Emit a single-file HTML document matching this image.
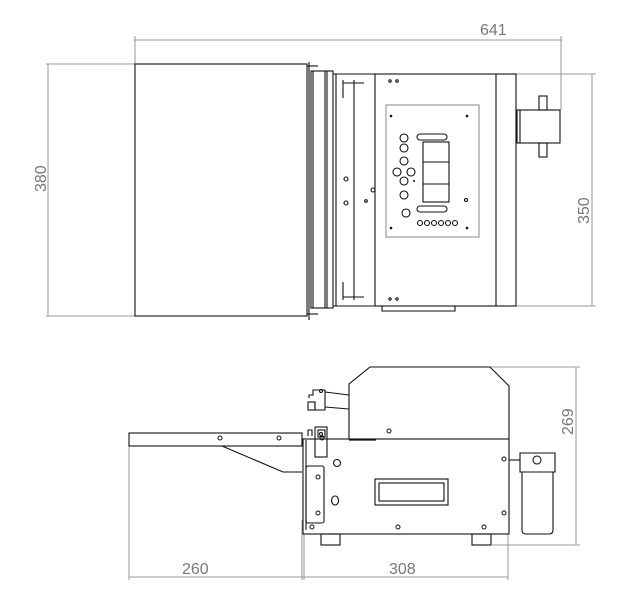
<!DOCTYPE html>
<html><head><meta charset="utf-8"><style>
html,body{margin:0;padding:0;background:#fff;}
svg{display:block;}
text{font-family:"Liberation Sans",sans-serif;fill:#777;font-size:16px;}
</style></head><body>
<svg width="639" height="615" viewBox="0 0 639 615" xmlns="http://www.w3.org/2000/svg">
<g stroke="#999" stroke-width="1" fill="none">
 <line x1="134" y1="40" x2="562" y2="40"/>
 <line x1="135" y1="36" x2="135" y2="64"/>
 <line x1="561" y1="36" x2="561" y2="110"/>
 <line x1="48" y1="64" x2="48" y2="316"/>
 <line x1="46" y1="64" x2="135" y2="64"/>
 <line x1="46" y1="316" x2="135" y2="316"/>
 <line x1="592" y1="74" x2="592" y2="306"/>
 <line x1="516" y1="74" x2="596" y2="74"/>
 <line x1="516" y1="306" x2="596" y2="306"/>
 <line x1="576" y1="367" x2="576" y2="545"/>
 <line x1="490" y1="367" x2="580" y2="367"/>
 <line x1="492" y1="545" x2="580" y2="545"/>
 <line x1="129" y1="577" x2="508" y2="577"/>
 <line x1="129" y1="446" x2="129" y2="580"/>
 <line x1="302" y1="520" x2="302" y2="580"/>
 <line x1="304" y1="534" x2="304" y2="580"/>
 <line x1="508" y1="534" x2="508" y2="580"/>
 <rect x="386" y="105" width="93" height="132" stroke="#888"/>
</g>
<text x="480" y="35">641</text>
<text transform="translate(46,192) rotate(-90)">380</text>
<text transform="translate(589,224) rotate(-90)">350</text>
<text transform="translate(573,435) rotate(-90)">269</text>
<text x="182" y="574">260</text>
<text x="389" y="574">308</text>

<g stroke="#111" stroke-width="1.1" fill="none">
 <rect x="135" y="64" width="172" height="252"/>
 <line x1="309" y1="62" x2="309" y2="320"/>
 <line x1="307" y1="66" x2="318" y2="66"/><line x1="307" y1="314" x2="318" y2="314"/>
 <rect x="311" y="71" width="22" height="237"/>
 <line x1="313" y1="71" x2="313" y2="308"/>
 <line x1="325" y1="71" x2="325" y2="308"/>
 <line x1="327" y1="71" x2="327" y2="308"/>
 <line x1="336" y1="74" x2="336" y2="306"/>
 <line x1="343" y1="80" x2="343" y2="98"/><line x1="343" y1="282" x2="343" y2="300"/>
 <line x1="343" y1="83" x2="364" y2="83"/><line x1="343" y1="297" x2="364" y2="297"/>
 <line x1="354" y1="80" x2="354" y2="300"/>
 <line x1="333" y1="74" x2="375" y2="74"/><line x1="333" y1="306" x2="375" y2="306"/>
 <rect x="375" y="74" width="141" height="232"/>
 <line x1="496" y1="74" x2="496" y2="306"/>
 <path d="M382 306 V311 H455 V306"/>
 <rect x="517" y="110" width="43" height="33"/>
 <line x1="520" y1="110" x2="520" y2="143"/>
 <rect x="539" y="96" width="8" height="14"/><rect x="539" y="143" width="8" height="14"/>
 <rect x="417" y="134" width="30" height="6" rx="3"/>
 <rect x="417" y="206" width="30" height="6" rx="3"/>
 <rect x="423" y="142" width="26" height="60"/>
 <line x1="423" y1="162" x2="449" y2="162"/><line x1="423" y1="184" x2="449" y2="184"/>
 <circle cx="404" cy="138" r="4"/><circle cx="404" cy="148" r="4"/>
 <circle cx="404" cy="161" r="4"/><circle cx="397" cy="172" r="4"/><circle cx="411" cy="172" r="4"/>
 <circle cx="404" cy="181" r="4"/><circle cx="404" cy="195" r="4"/><circle cx="406" cy="213" r="4"/>
 <circle cx="420" cy="223" r="2.5"/><circle cx="427" cy="223" r="2.5"/><circle cx="434" cy="223" r="2.5"/>
 <circle cx="441" cy="223" r="2.5"/><circle cx="448" cy="223" r="2.5"/><circle cx="455" cy="223" r="2.5"/>
 <circle cx="346" cy="179" r="2"/><circle cx="346" cy="203" r="2"/>
 <circle cx="373" cy="190" r="2"/><circle cx="366" cy="201" r="1.3"/><circle cx="466" cy="200" r="1.5"/>
 <circle cx="390" cy="81" r="1.2"/><circle cx="397" cy="81" r="1.2"/>
 <circle cx="390" cy="299" r="1.2"/><circle cx="397" cy="299" r="1.2"/>

 <rect x="129" y="433" width="173" height="13"/>
 <path d="M222 446 L283 472 H302"/>
 <path d="M349 439 V384 L370 367 H490 L509 386 V439"/>
 <rect x="303" y="439" width="206" height="95"/>
 <line x1="349" y1="440" x2="376" y2="440" stroke-width="1.2"/>
 <rect x="375" y="479" width="73" height="26"/>
 <rect x="379" y="483" width="65" height="18"/>
 <rect x="306" y="466" width="18" height="57" rx="2"/>
 <line x1="306" y1="440" x2="306" y2="530"/>
 <rect x="321" y="534" width="19" height="11"/>
 <rect x="472" y="534" width="19" height="11"/>
 <path d="M520 453 H555 V472 H520 Z"/>
 <path d="M522 472 V530 Q522 534 526 534 H549 Q553 534 553 530 V472"/>
 <line x1="509" y1="460" x2="520" y2="460"/>
 <circle cx="537" cy="460" r="4"/>
 <path d="M309 398 V395 H313 V390 H325 V410 H315 V402"/>
 <line x1="325" y1="392" x2="349" y2="395"/><line x1="325" y1="407" x2="349" y2="409"/>
 <rect x="308" y="402" width="7" height="8"/>
 <path d="M308 436 V430 H312 V436"/>
 <rect x="315" y="427" width="12" height="30"/>
 <rect x="318" y="430" width="7" height="7"/>
 <circle cx="337" cy="463" r="3.5"/>
 <path d="M335 496 a3.5 4.5 0 1 0 0.1 0"/>
</g>
<g fill="#111">
 <circle cx="391" cy="116" r="1.3"/><circle cx="467" cy="116" r="1.3"/>
 <circle cx="391" cy="228" r="1.3"/><circle cx="467" cy="228" r="1.3"/>
 <circle cx="414" cy="181" r="1"/>
</g>
<g stroke="#111" fill="none" stroke-width="1">
 <circle cx="220" cy="438" r="2"/><circle cx="279" cy="438" r="2"/>
 <circle cx="389" cy="431" r="2"/><circle cx="322" cy="438" r="2"/>
 <circle cx="318" cy="477" r="2"/><circle cx="318" cy="513" r="2"/>
 <circle cx="312" cy="527" r="2"/><circle cx="398" cy="527" r="2"/><circle cx="484" cy="527" r="2"/>
 <circle cx="504" cy="459" r="2"/><circle cx="504" cy="513" r="2"/>
 <circle cx="321" cy="391" r="1.5"/><circle cx="321" cy="434" r="1.5"/>
</g>
</svg>
</body></html>
